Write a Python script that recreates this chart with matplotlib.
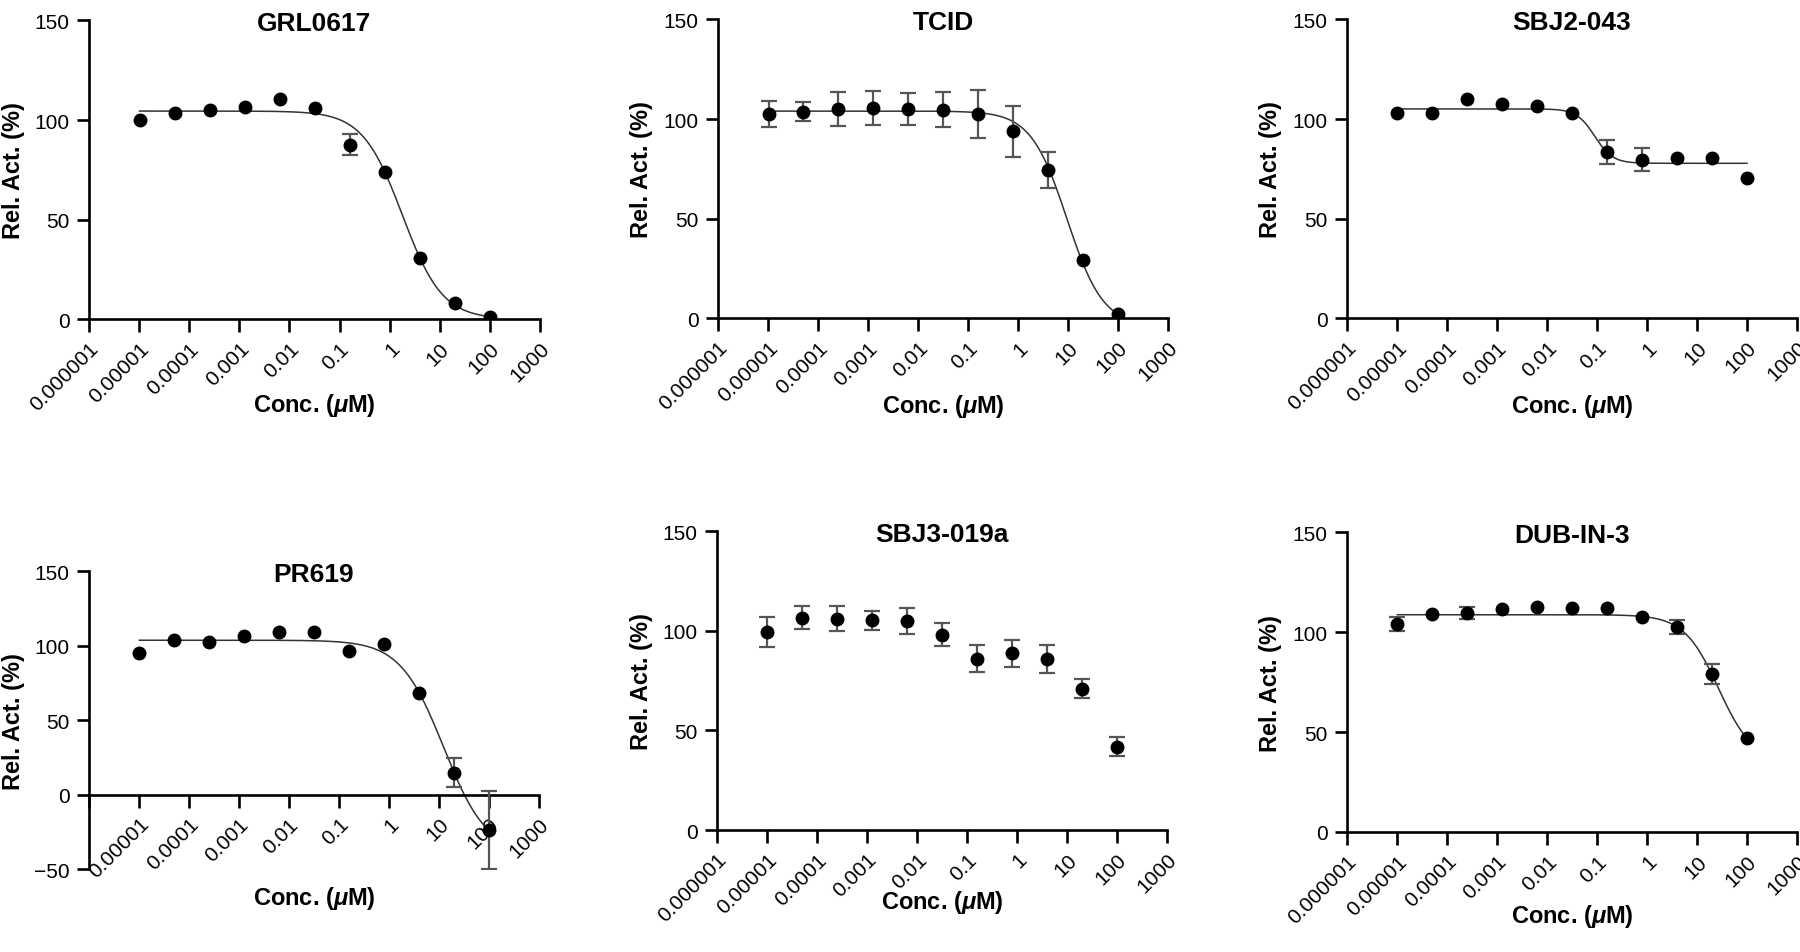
import numpy as np
import matplotlib
matplotlib.use('Agg')
from matplotlib import pyplot as plt

plt.rcParams['font.family'] = ['Liberation Sans', 'DejaVu Sans']
plt.rcParams['mathtext.fontset'] = 'custom'
plt.rcParams['mathtext.it'] = 'Liberation Sans:italic:bold'
plt.rcParams['mathtext.rm'] = 'Liberation Sans:bold'

# concentrations (uM), 5-fold dilution from 100
conc = [1.024e-5, 5.12e-5, 2.56e-4, 1.28e-3, 6.4e-3, 0.032, 0.16, 0.8, 4, 20, 100]

titles = ['GRL0617', 'TCID', 'SBJ2-043', 'PR619', 'SBJ3-019a', 'DUB-IN-3']

grl0617 = [99.8, 103.5, 105.0, 106.6, 110.8, 105.8, 87.6, 73.8, 30.6, 7.9, 1.0]
grl0617_err = [0, 0, 0, 0, 0, 0, 5.4, 0, 0, 0, 0]

tcid = [102.6, 103.8, 105.1, 105.5, 105.1, 104.6, 102.6, 93.8, 74.5, 29.0, 2.2]
tcid_err = [6.7, 5.0, 8.4, 8.4, 8.2, 8.8, 12.0, 13.0, 9.2, 0, 0]

sbj2 = [103.1, 103.1, 110.2, 107.5, 106.8, 103.0, 83.4, 79.7, 80.4, 80.7, 70.5]
sbj2_err = [0, 0, 0, 0, 0, 0, 6.0, 5.8, 0, 0, 0]

pr619 = [94.9, 103.6, 102.5, 106.1, 108.8, 108.8, 96.1, 101.4, 68.4, 14.7, -23.8]
pr619_err = [0, 0, 0, 0, 0, 0, 0, 0, 0, 9.6, 25.9]

sbj3 = [99.5, 106.6, 106.1, 105.2, 104.9, 97.9, 86.0, 88.7, 86.0, 71.0, 41.8]
sbj3_err = [7.5, 5.8, 6.2, 4.9, 6.7, 5.8, 6.8, 6.8, 7.0, 4.8, 4.8]

dubin3 = [104.1, 109.1, 109.4, 111.6, 112.7, 111.9, 112.1, 107.7, 102.6, 79.0, 46.8]
dubin3_err = [3.5, 0, 3.0, 0, 0, 0, 0, 0, 3.5, 4.8, 0]

# four-parameter logistic fits: top, bottom, IC50, hill
grl0617_fit = [104.5, 0.0, 1.8, 1.09]
tcid_fit = [104.0, -4.0, 9.5, 1.2]
sbj2_fit = [105.1, 77.8, 0.09, 2.4]
pr619_fit = [103.6, -40.0, 12.4, 1.0]
dubin3_fit = [108.7, 35.0, 27.0, 1.26]

values = [grl0617, tcid, sbj2, pr619, sbj3, dubin3]
errors = [grl0617_err, tcid_err, sbj2_err, pr619_err, sbj3_err, dubin3_err]
fits = [grl0617_fit, tcid_fit, sbj2_fit, pr619_fit, None, dubin3_fit]

xticks = [1e-6, 1e-5, 1e-4, 1e-3, 1e-2, 1e-1, 1, 10, 100, 1000]
xticklabels = ['0.000001', '0.00001', '0.0001', '0.001', '0.01', '0.1', '1', '10', '100', '1000']

rects = [[0.0494, 0.664, 0.2506, 0.3135],
         [0.3989, 0.665, 0.25, 0.3135],
         [0.7483, 0.665, 0.25, 0.3135],
         [0.0494, 0.087, 0.25, 0.3127],
         [0.3983, 0.128, 0.25, 0.3137],
         [0.7483, 0.126, 0.25, 0.3145]]
xlabel_y = [-0.24, -0.247, -0.247, -0.049, -0.195, -0.233]
ylabel_x = [-0.142, -0.144, -0.144, -0.142, -0.142, -0.144]


def logistic(x, p):
    top, bottom, ic50, hill = p
    return bottom + (top - bottom) / (1 + (x / ic50) ** hill)


fig = plt.figure(figsize=(18, 9.53), dpi=100)

for i in range(6):
    ax = fig.add_axes(rects[i])
    x = np.array(conc)
    y = np.array(values[i])
    e = np.array(errors[i])

    if fits[i] is not None:
        xs = np.logspace(np.log10(conc[0]), np.log10(conc[-1]), 300)
        ax.plot(xs, logistic(xs, fits[i]), color='#333333', lw=1.1, zorder=2)

    m = e > 0
    ax.errorbar(x[m], y[m], yerr=e[m], fmt='none', ecolor='#555555',
                elinewidth=1.6, capsize=5.5, capthick=1.6, zorder=3)
    ax.plot(x, y, 'o', color='black', markersize=9, zorder=4)

    ax.set_xscale('log')
    ax.set_xlim(1e-6, 1000)
    if i == 3:
        ax.set_ylim(-50, 150)
        ax.set_yticks([-50, 0, 50, 100, 150])
        ax.spines['bottom'].set_position(('data', 0))
        labels = [''] + xticklabels[1:]
    else:
        ax.set_ylim(0, 150)
        ax.set_yticks([0, 50, 100, 150])
        labels = xticklabels
    ax.set_xticks(xticks)
    ax.set_xticklabels(labels, rotation=45, ha='right', rotation_mode='anchor')
    ax.minorticks_off()

    ax.spines['top'].set_visible(False)
    ax.spines['right'].set_visible(False)
    for s in ['left', 'bottom']:
        ax.spines[s].set_linewidth(1.9)
    ax.tick_params(width=1.9, length=9, labelsize=15, pad=5)
    ax.tick_params(axis='x', pad=5)

    ax.set_xlabel('Conc. ($\\mu$M)', fontsize=17, fontweight='bold')
    ax.set_ylabel('Rel. Act. (%)', fontsize=17, fontweight='bold')
    ax.xaxis.set_label_coords(0.5, xlabel_y[i])
    ax.yaxis.set_label_coords(ylabel_x[i], 0.5)
    ax.text(0.5, 0.99, titles[i], transform=ax.transAxes, ha='center',
            va='center', fontsize=19, fontweight='bold')

plt.savefig('out.png', dpi=100)
